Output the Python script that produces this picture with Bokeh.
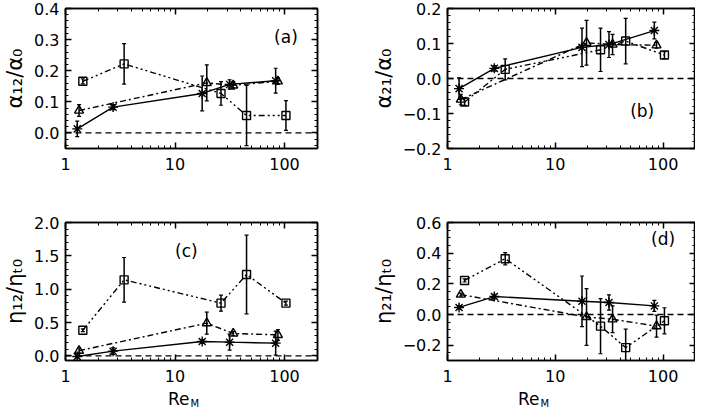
from bokeh.plotting import figure
from bokeh.models import (FixedTicker, LogAxis, LinearAxis, Range1d, Label, Whisker,
                          ColumnDataSource, Span, TeeHead)
from bokeh.layouts import column, row
from bokeh.embed import file_html
from bokeh.resources import INLINE

# ---------------- data ----------------
star_x = [1.28, 2.72, 17.7, 31.5, 83.0]
tri_x = [1.33, 19.5, 34.0, 87.0]
sq_x = [1.44, 3.43, 26.3, 45.0, 103.0]

# panel (a): alpha_12 / alpha_0
a12_star = [0.013, 0.083, 0.127, 0.156, 0.168]
a12_star_err = [0.025, 0.008, 0.056, 0.015, 0.040]
a12_tri = [0.072, 0.161, 0.153, 0.166]
a12_tri_err = [0.019, 0.058, 0.012, 0.010]
a12_sq = [0.166, 0.222, 0.127, 0.056, 0.056]
a12_sq_err = [0.008, 0.065, 0.038, 0.097, 0.048]

# panel (b): alpha_21 / alpha_0
a21_star = [-0.029, 0.029, 0.089, 0.097, 0.137]
a21_star_err = [0.031, 0.008, 0.055, 0.037, 0.024]
a21_tri = [-0.060, 0.102, 0.097, 0.095]
a21_tri_err = [0.015, 0.064, 0.029, 0.008]
a21_sq = [-0.067, 0.026, 0.082, 0.107, 0.067]
a21_sq_err = [0.010, 0.030, 0.062, 0.065, 0.010]

# panel (c): eta_12 / eta_t0
e12_star = [-0.01, 0.07, 0.215, 0.205, 0.19]
e12_star_err = [0.02, 0.05, 0.03, 0.12, 0.18]
e12_tri = [0.077, 0.49, 0.335, 0.315]
e12_tri_err = [0.04, 0.165, 0.03, 0.08]
e12_sq = [0.383, 1.14, 0.79, 1.22, 0.79]
e12_sq_err = [0.02, 0.335, 0.12, 0.59, 0.03]

# panel (d): eta_21 / eta_t0
e21_star = [0.046, 0.117, 0.086, 0.078, 0.056]
e21_star_err = [0.01, 0.015, 0.165, 0.05, 0.036]
e21_tri = [0.13, -0.016, -0.031, -0.076]
e21_tri_err = [0.01, 0.185, 0.087, 0.072]
e21_sq = [0.222, 0.364, -0.076, -0.216, -0.041]
e21_sq_err = [0.01, 0.04, 0.18, 0.12, 0.085]

x_major = [1, 10, 100]
x_minor = [2, 3, 4, 5, 6, 7, 8, 9, 20, 30, 40, 50, 60, 70, 80, 90, 200]

FONT = "DejaVu Sans"
TRI_DASH = "6 3 2 3"
SQ_DASH = "6 3 2 3 2 3 2 3"

WL, WR = 352, 343          # column widths
TOP_H, BOT_H, REM_H = 214, 174, 22


def fmt(v):
    s = f"{abs(v):.1f}"
    return ("\u2212" + s) if v < -1e-9 else s


def style_axis(ax, show_labels):
    ax.major_tick_in = 6
    ax.major_tick_out = 0
    ax.minor_tick_in = 3
    ax.minor_tick_out = 0
    ax.axis_line_width = 1.5
    ax.axis_line_color = "black"
    ax.major_tick_line_width = 1.5
    ax.minor_tick_line_width = 1
    ax.major_tick_line_color = "black"
    ax.minor_tick_line_color = "black"
    ax.major_label_text_font = FONT
    ax.major_label_text_color = "black"
    if show_labels:
        ax.major_label_text_font_size = "16px"
    else:
        ax.major_label_text_font_size = "1px"
        ax.major_label_text_alpha = 0
        ax.major_label_standoff = 0


def make_panel(w, h, mbl, mbr, mbt, mbb, yr, yticks, yminor, ylabel):
    p = figure(width=w, height=h, x_axis_type="log",
               x_range=Range1d(1, 200), y_range=Range1d(*yr),
               output_backend="svg", toolbar_location=None,
               min_border_left=mbl, min_border_right=mbr,
               min_border_top=mbt, min_border_bottom=mbb)
    p.xgrid.visible = False
    p.ygrid.visible = False
    p.outline_line_color = "black"
    p.outline_line_width = 1.5
    p.background_fill_color = "white"
    p.border_fill_color = "white"

    xt = FixedTicker(ticks=x_major, minor_ticks=x_minor)
    yt = FixedTicker(ticks=yticks, minor_ticks=yminor)

    xb = p.xaxis[0]
    xb.ticker = xt
    xb.major_label_overrides = {v: str(v) for v in x_major}
    style_axis(xb, True)
    xb.major_label_standoff = 9

    yl = p.yaxis[0]
    yl.ticker = yt
    yl.major_label_overrides = {v: fmt(v) for v in yticks}
    style_axis(yl, True)
    yl.major_label_standoff = 6
    yl.axis_label = ylabel
    yl.axis_label_text_font = FONT
    yl.axis_label_text_font_size = "21px"
    yl.axis_label_text_font_style = "normal"
    yl.axis_label_standoff = 4
    yl.axis_label_text_color = "black"

    xa = LogAxis(ticker=xt)
    style_axis(xa, False)
    p.add_layout(xa, "above")
    yr_ax = LinearAxis(ticker=yt)
    style_axis(yr_ax, False)
    p.add_layout(yr_ax, "right")

    p.add_layout(Span(location=0, dimension="width", line_color="black",
                      line_dash="6 4", line_width=1.3))
    return p


def add_series(p, xs, ys, es, marker, dash, size):
    p.line(xs, ys, line_color="black", line_width=1.4, line_dash=dash)
    src = ColumnDataSource(dict(base=xs,
                                upper=[y + e for y, e in zip(ys, es)],
                                lower=[y - e for y, e in zip(ys, es)]))
    p.add_layout(Whisker(source=src, base="base", upper="upper", lower="lower",
                         dimension="height", line_color="black", line_width=1.5,
                         upper_head=TeeHead(size=4, line_width=1.2, line_color="black"),
                         lower_head=TeeHead(size=4, line_width=1.2, line_color="black")))
    p.scatter(xs, ys, marker=marker, size=size, line_color="black",
              fill_color="white", fill_alpha=0, line_width=1.4)


def add_all(p, s, se, t, te, q, qe):
    add_series(p, star_x, s, se, "asterisk", "solid", 10)
    add_series(p, tri_x, t, te, "triangle", TRI_DASH, 9)
    add_series(p, sq_x, q, qe, "square", SQ_DASH, 8)


def add_tag(p, x, y, text):
    p.add_layout(Label(x=x, y=y, text=text, text_align="center", text_baseline="middle",
                       text_font=FONT, text_font_size="17px", text_color="black"))


def rem_strip(w, xpos):
    # strip below a bottom panel carrying the x-axis title "Re" with subscript "M"
    s = figure(width=w, height=REM_H, x_range=Range1d(0, w), y_range=Range1d(0, REM_H),
               output_backend="svg", toolbar_location=None,
               x_axis_location=None, y_axis_location=None,
               min_border_left=0, min_border_right=0, min_border_top=0, min_border_bottom=0)
    s.xgrid.visible = False
    s.ygrid.visible = False
    s.outline_line_color = None
    s.background_fill_color = "white"
    s.border_fill_color = "white"
    s.add_layout(Label(x=xpos, y=REM_H - 10, text="Re", text_align="right",
                       text_baseline="middle", text_font=FONT, text_font_size="17px",
                       text_color="black"))
    s.add_layout(Label(x=xpos + 1, y=REM_H - 15, text="M", text_align="left",
                       text_baseline="middle", text_font=FONT, text_font_size="10px",
                       text_color="black"))
    return s


ya_t = [0.0, 0.1, 0.2, 0.3, 0.4]
ya_m = [round(-0.04 + 0.02 * i, 2) for i in range(23)]
yb_t = [-0.2, -0.1, 0.0, 0.1, 0.2]
yb_m = [round(-0.2 + 0.02 * i, 2) for i in range(21)]
yc_t = [0.0, 0.5, 1.0, 1.5, 2.0]
yc_m = [round(0.1 * i, 1) for i in range(21)]
yd_t = [-0.2, 0.0, 0.2, 0.4, 0.6]
yd_m = [round(-0.3 + 0.05 * i, 2) for i in range(19)]

pa = make_panel(WL, TOP_H, 55, 35, 8, 66, (-0.05, 0.4), ya_t, ya_m,
                "\u03b1\u2081\u2082/\u03b1\u2080")
add_all(pa, a12_star, a12_star_err, a12_tri, a12_tri_err, a12_sq, a12_sq_err)
add_tag(pa, 103, 0.31, "(a)")

pb = make_panel(WR, TOP_H, 95, 0, 8, 66, (-0.2, 0.2), yb_t, yb_m,
                "\u03b1\u2082\u2081/\u03b1\u2080")
add_all(pb, a21_star, a21_star_err, a21_tri, a21_tri_err, a21_sq, a21_sq_err)
add_tag(pb, 64, -0.094, "(b)")

pc = make_panel(WL, BOT_H, 55, 35, 8, 28, (-0.07, 2.0), yc_t, yc_m,
                "\u03b7\u2081\u2082/\u03b7\u209c\u2080")
add_all(pc, e12_star, e12_star_err, e12_tri, e12_tri_err, e12_sq, e12_sq_err)
add_tag(pc, 12.7, 1.57, "(c)")

pd_ = make_panel(WR, BOT_H, 95, 0, 8, 28, (-0.3, 0.6), yd_t, yd_m,
                 "\u03b7\u2082\u2081/\u03b7\u209c\u2080")
add_all(pd_, e21_star, e21_star_err, e21_tri, e21_tri_err, e21_sq, e21_sq_err)
add_tag(pd_, 100, 0.494, "(d)")

rc = rem_strip(WL, 189)
rd = rem_strip(WR, 187)

layout = column(row(pa, pb), row(pc, pd_), row(rc, rd))
open("out.html", "w").write(file_html(layout, INLINE))
